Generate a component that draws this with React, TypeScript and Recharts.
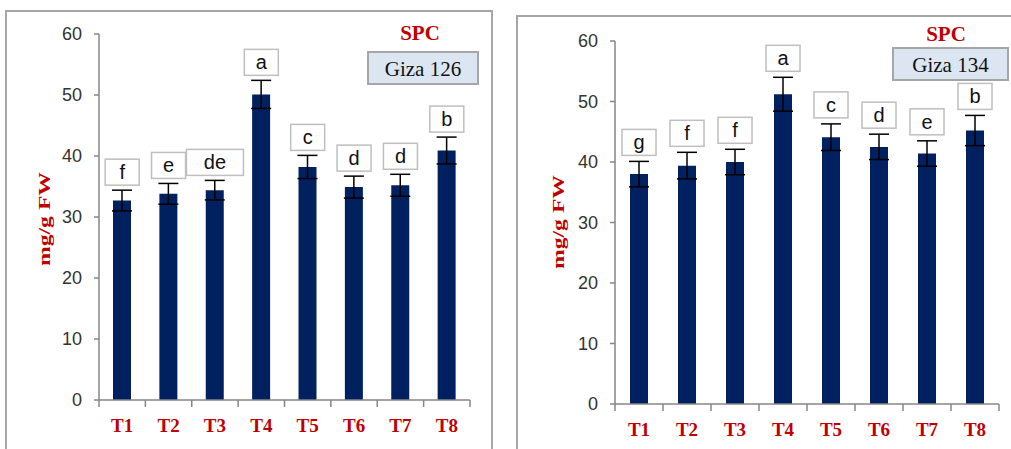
import React from 'react'
import { ComposedChart, Bar, Line, XAxis, YAxis, ErrorBar } from 'recharts'

const treatments = ['T1', 'T2', 'T3', 'T4', 'T5', 'T6', 'T7', 'T8']
const yTicks = [0, 10, 20, 30, 40, 50, 60]

// Giza 126
const giza126Mean = [32.7, 33.8, 34.4, 50.1, 38.2, 34.9, 35.2, 40.9]
const giza126Err = [1.7, 1.7, 1.6, 2.3, 1.9, 1.8, 1.8, 2.2]
const giza126Letters = ['f', 'e', 'de', 'a', 'c', 'd', 'd', 'b']

// Giza 134
const giza134Mean = [38.0, 39.4, 40.0, 51.2, 44.1, 42.5, 41.4, 45.2]
const giza134Err = [2.1, 2.2, 2.1, 2.8, 2.2, 2.1, 2.1, 2.5]
const giza134Letters = ['g', 'f', 'f', 'a', 'c', 'd', 'e', 'b']

const RED = '#c00000'
const NAVY = '#002060'
const AXIS = '#868686'
const SERIF = '"Liberation Serif", "Times New Roman", serif'
const SANS = '"Liberation Sans", Arial, sans-serif'

function buildData(mean: number[], err: number[], letters: string[]) {
  return treatments.map((t, i) => ({
    name: t,
    value: mean[i],
    err: err[i],
    top: mean[i] + err[i],
    letter: letters[i],
  }))
}

interface PanelProps {
  mean: number[]
  err: number[]
  letters: string[]
  width: number
  height: number
  margin: { top: number; right: number; bottom: number; left: number }
  gap: number
}

function Panel({ mean, err, letters, width, height, margin, gap }: PanelProps) {
  const data = buildData(mean, err, letters)
  const plotW = width - margin.left - margin.right - 60
  const step = plotW / treatments.length

  const XTick = (props: any) => {
    const { x, y, payload, index } = props
    return (
      <g>
        <line x1={x - step / 2} x2={x - step / 2} y1={y} y2={y + 7} stroke={AXIS} strokeWidth={1.5} />
        {index === treatments.length - 1 && (
          <line x1={x + step / 2} x2={x + step / 2} y1={y} y2={y + 7} stroke={AXIS} strokeWidth={1.5} />
        )}
        <text x={x} y={y + 25} textAnchor="middle" dominantBaseline="central"
          fill={RED} fontFamily={SERIF} fontWeight="bold" fontSize={19}>
          {payload.value}
        </text>
      </g>
    )
  }

  const LetterBox = (props: any) => {
    const { cx, cy, payload, index } = props
    const w = payload.letter.length > 1 ? 57 : 34
    const h = 26
    return (
      <g key={`lb-${index}`}>
        <rect x={cx - w / 2} y={cy - gap - h} width={w} height={h}
          fill="#fff" stroke="#bfbfbf" strokeWidth={1.5} />
        <text x={cx} y={cy - gap - h / 2} textAnchor="middle" dominantBaseline="central"
          fill="#111" fontFamily={SANS} fontSize={20}>
          {payload.letter}
        </text>
      </g>
    )
  }

  return (
    <ComposedChart width={width} height={height} data={data} margin={margin}>
      <XAxis dataKey="name" height={30} tickSize={0} tickMargin={0} tickLine={false}
        axisLine={{ stroke: AXIS, strokeWidth: 1.5 }} tick={<XTick />} interval={0} />
      <YAxis width={60} domain={[0, 60]} ticks={yTicks} tickSize={5} tickMargin={12}
        axisLine={{ stroke: AXIS, strokeWidth: 1.5 }} tickLine={{ stroke: AXIS, strokeWidth: 1.5 }}
        tick={{ fill: '#333', fontSize: 18, fontFamily: SANS }} />
      <Bar dataKey="value" fill={NAVY} barSize={18} isAnimationActive={false}>
        <ErrorBar dataKey="err" width={10} stroke="#000" strokeWidth={1.5} direction="y" />
      </Bar>
      <Line dataKey="top" stroke="none" dot={LetterBox} activeDot={false}
        isAnimationActive={false} legendType="none" />
    </ComposedChart>
  )
}

function Titles({ spcX, spcY, box, yLabel }: {
  spcX: number; spcY: number
  box: { x: number; y: number; w: number; h: number; text: string }
  yLabel: { x: number; y: number }
}) {
  return (
    <svg width={1011} height={449} style={{ position: 'absolute', left: 0, top: 0, pointerEvents: 'none' }}>
      <text x={spcX} y={spcY} textAnchor="middle" dominantBaseline="central"
        fill={RED} fontFamily={SERIF} fontWeight="bold" fontSize={21}>SPC</text>
      <rect x={box.x} y={box.y} width={box.w} height={box.h} fill="#dce6f2" stroke="#a6a6a6" strokeWidth={2} />
      <text x={box.x + box.w / 2} y={box.y + box.h / 2 + 1} textAnchor="middle" dominantBaseline="central"
        fill="#111" fontFamily={SERIF} fontSize={21}>{box.text}</text>
      <text x={0} y={0} textAnchor="middle" dominantBaseline="central"
        transform={`translate(${yLabel.x},${yLabel.y}) rotate(-90)`}
        textLength={94} lengthAdjust="spacingAndGlyphs"
        fill={RED} fontFamily={SERIF} fontWeight="bold" fontSize={16}>mg/g FW</text>
    </svg>
  )
}

export default function App() {
  return (
    <div style={{ position: 'fixed', left: 0, top: 0, width: 1011, height: 449, overflow: 'hidden', background: '#fff' }}>
      <div style={{ position: 'absolute', left: 5, top: 10, width: 488, height: 500, border: '2px solid #a6a6a6', boxSizing: 'border-box' }} />
      <div style={{ position: 'absolute', left: 516, top: 15, width: 600, height: 500, border: '2px solid #a6a6a6', boxSizing: 'border-box' }} />
      <div style={{ position: 'absolute', left: 0, top: 0 }}>
        <Panel mean={giza126Mean} err={giza126Err} letters={giza126Letters}
          width={493} height={449} margin={{ top: 34, right: 23, bottom: 19, left: 39 }} gap={5} />
      </div>
      <div style={{ position: 'absolute', left: 517, top: 0 }}>
        <Panel mean={giza134Mean} err={giza134Err} letters={giza134Letters}
          width={494} height={449} margin={{ top: 41, right: 12, bottom: 15, left: 38 }} gap={6} />
      </div>
      <Titles spcX={420} spcY={33} box={{ x: 368, y: 52, w: 110, h: 32, text: 'Giza 126' }} yLabel={{ x: 44, y: 219 }} />
      <Titles spcX={946} spcY={34} box={{ x: 893, y: 48, w: 115, h: 32, text: 'Giza 134' }} yLabel={{ x: 558, y: 222 }} />
    </div>
  )
}
